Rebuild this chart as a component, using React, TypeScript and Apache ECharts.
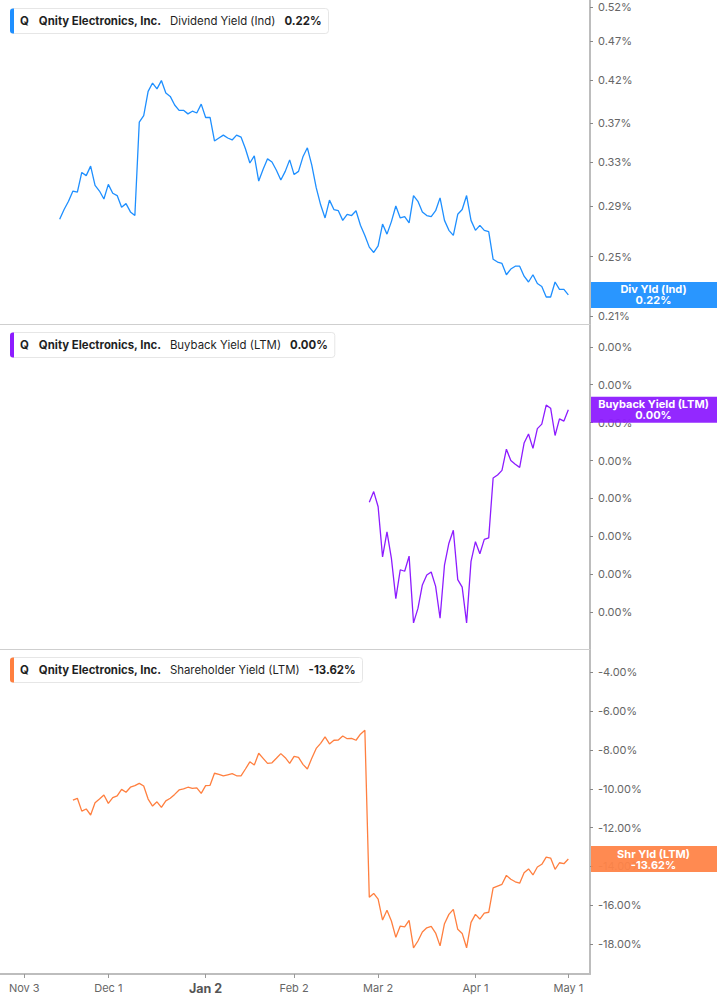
import React, { useEffect, useRef } from 'react';
import * as echarts from 'echarts';

// x axis is a trading-day index, Nov 3 = 0
const xTickIndex = [0, 19, 41, 61, 80, 102, 123];
const xTickLabels = ['Nov 3', 'Dec 1', 'Jan 2', 'Feb 2', 'Mar 2', 'Apr 1', 'May 1'];
const yearTick = 'Jan 2';

const divTicks = [0.21, 0.25, 0.29, 0.33, 0.37, 0.42, 0.47, 0.52];
const buybackTicks = [0, 0.0005, 0.001, 0.0015, 0.002, 0.0025, 0.003, 0.0035];
const shrTicks = [-18, -16, -14, -12, -10, -8, -6, -4];

const company = 'Qnity Electronics, Inc.';
const metricNames = ['Dividend Yield (Ind)', 'Buyback Yield (LTM)', 'Shareholder Yield (LTM)'];
const shortNames = ['Div Yld (Ind)', 'Buyback Yield (LTM)', 'Shr Yld (LTM)'];

const divStart = 8;
const divYield = [
  0.279, 0.287, 0.294, 0.303, 0.302, 0.320, 0.317, 0.326, 0.308, 0.303,
  0.296, 0.309, 0.301, 0.299, 0.289, 0.292, 0.285, 0.282, 0.371, 0.378,
  0.406, 0.416, 0.409, 0.419, 0.404, 0.400, 0.390, 0.384, 0.384, 0.380,
  0.383, 0.381, 0.391, 0.376, 0.376, 0.351, 0.354, 0.357, 0.354, 0.352,
  0.357, 0.355, 0.343, 0.329, 0.336, 0.312, 0.323, 0.333, 0.330, 0.322,
  0.313, 0.321, 0.332, 0.318, 0.321, 0.335, 0.344,
  0.327, 0.306, 0.291, 0.280, 0.295, 0.287, 0.286, 0.278, 0.283, 0.282,
  0.286, 0.274, 0.266, 0.257, 0.253, 0.258, 0.275, 0.267, 0.277, 0.290,
  0.280, 0.281, 0.276, 0.299, 0.294, 0.285, 0.282, 0.281, 0.286, 0.297,
  0.278, 0.270, 0.266, 0.283, 0.287, 0.299, 0.278, 0.270, 0.274, 0.270,
  0.269, 0.248, 0.246, 0.245, 0.237, 0.241, 0.243, 0.243, 0.236, 0.232,
  0.237, 0.231, 0.229, 0.222, 0.222, 0.232, 0.227, 0.227, 0.2234,
];

const buybackStart = 78;
const buybackYield = [
  0.00145, 0.00159, 0.00139, 0.00073, 0.00106, 0.00071, 0.00018, 0.00056, 0.00054, 0.00074,
  -0.00014, 0.00005, 0.00036, 0.00049, 0.00053, 0.00034, -0.00008, 0.00062, 0.00091, 0.00108,
  0.00043, 0.00033, -0.00014, 0.00067, 0.00093, 0.00077, 0.00096, 0.00098, 0.00177, 0.00181,
  0.00187, 0.00215, 0.00200, 0.00195, 0.00191, 0.00223, 0.00235, 0.00216, 0.00242, 0.00248,
  0.00273, 0.00269, 0.00233, 0.00255, 0.00252, 0.00267,
];

const shrStart = 11;
const shrYield = [
  -10.58, -10.49, -11.15, -11.04, -11.35, -10.72, -10.53, -10.32, -10.75, -10.46,
  -10.37, -10.03, -10.18, -9.92, -9.84, -9.72, -9.86, -10.53, -10.89, -10.67,
  -10.96, -10.62, -10.49, -10.29, -10.06, -10.01, -9.92, -9.98, -9.95, -10.24,
  -9.84, -9.82, -9.20, -9.26, -9.34, -9.28, -9.22, -9.33, -9.33, -8.98,
  -8.61, -8.78, -8.17, -8.43, -8.69, -8.66, -8.43, -8.19, -8.40, -8.69,
  -8.33, -8.38, -8.74, -8.98, -8.43, -7.92, -7.66, -7.33, -7.69, -7.50,
  -7.49, -7.28, -7.42, -7.40, -7.50, -7.19, -6.99, -15.59, -15.39, -15.68,
  -16.76, -16.26, -16.81, -17.65, -17.07, -17.11, -16.78, -18.19, -17.84, -17.38,
  -17.16, -17.09, -17.43, -18.09, -16.95, -16.47, -16.21, -17.24, -17.45, -18.19,
  -16.88, -16.47, -16.71, -16.40, -16.36, -15.10, -15.01, -14.92, -14.46, -14.66,
  -14.79, -14.86, -14.32, -14.13, -14.44, -14.03, -13.89, -13.52, -13.57, -14.15,
  -13.81, -13.86, -13.62,
];

// layout
const W = 717;
const H = 1005;
const PLOT_RIGHT = 590;
const PANEL_TOP = [0, 324, 649];
const PANEL_H = [324, 325, 325];
const X_MIN = -5.49;
const X_MAX = 127.9;
const COLORS = ['#1e8fff', '#8d1cff', '#ff7f3f'];
const BOX_COLORS = ['#1e90ff', '#8d1cff', '#ff8448'];
const FONT = 'Inter';
const LEGEND_FS = 11.4;

const pct = (v: number) => v.toFixed(2) + '%';

let measureCtx: CanvasRenderingContext2D | null = null;
const textWidth = (s: string, bold: boolean) => {
  if (!measureCtx) measureCtx = document.createElement('canvas').getContext('2d');
  if (!measureCtx) return s.length * 6.5;
  measureCtx.font = `${bold ? 'bold ' : ''}${LEGEND_FS}px ${FONT}`;
  return measureCtx.measureText(s).width;
};

const App: React.FC = () => {
  const chartRef = useRef<HTMLDivElement | null>(null);

  useEffect(() => {
    if (!chartRef.current) return;
    const chart = echarts.init(chartRef.current, undefined, { renderer: 'svg' });

    const panels = [
      {
        data: divYield.map((v, k) => [divStart + k, Math.log(v)]),
        min: Math.log(0.2051),
        max: Math.log(0.5308),
        ticks: divTicks.map((t) => Math.log(t)),
        fmt: (v: number) => pct(Math.exp(v)),
        last: divYield[divYield.length - 1],
        lastPoint: [divStart + divYield.length - 1, Math.log(divYield[divYield.length - 1])],
      },
      {
        data: buybackYield.map((v, k) => [buybackStart + k, v]),
        min: -0.000485,
        max: 0.0038,
        ticks: buybackTicks,
        fmt: (v: number) => pct(Math.abs(v)),
        last: buybackYield[buybackYield.length - 1],
        lastPoint: [buybackStart + buybackYield.length - 1, buybackYield[buybackYield.length - 1]],
      },
      {
        data: shrYield.map((v, k) => [shrStart + k, v]),
        min: -19.54,
        max: -2.8,
        ticks: shrTicks,
        fmt: (v: number) => pct(v),
        last: shrYield[shrYield.length - 1],
        lastPoint: [shrStart + shrYield.length - 1, shrYield[shrYield.length - 1]],
      },
    ];

    const option: any = {
      animation: false,
      textStyle: { fontFamily: FONT },
      grid: panels.map((_, i) => ({
        left: 0,
        right: W - PLOT_RIGHT,
        top: PANEL_TOP[i],
        height: PANEL_H[i],
        containLabel: false,
      })),
      xAxis: panels.map((_, i) => ({
        type: 'value',
        gridIndex: i,
        min: X_MIN,
        max: X_MAX,
        splitLine: { show: false },
        axisLine: {
          show: true,
          onZero: false,
          lineStyle: { color: i < 2 ? '#cfcfcf' : '#bdbdbd', width: i < 2 ? 1 : 2 },
        },
        axisTick: {
          show: i === 2,
          customValues: xTickIndex,
          length: 4,
          lineStyle: { color: '#999' },
        },
        axisLabel: {
          show: i === 2,
          customValues: xTickIndex,
          margin: 8,
          color: '#666',
          fontSize: 11,
          fontFamily: FONT,
          formatter: (v: number) => {
            const s = xTickLabels[xTickIndex.indexOf(Math.round(v))] || '';
            return s === yearTick ? `{b|${s}}` : s;
          },
          rich: { b: { fontWeight: 'bold', fontSize: 12.5, color: '#555', fontFamily: FONT } },
        },
      })),
      yAxis: panels.map((p, i) => ({
        type: 'value',
        gridIndex: i,
        position: 'right',
        min: p.min,
        max: p.max,
        splitLine: { show: false },
        axisLine: { show: true, onZero: false, lineStyle: { color: '#bdbdbd', width: 2 } },
        axisTick: { show: true, customValues: p.ticks, length: 3, lineStyle: { color: '#888' } },
        axisLabel: {
          customValues: p.ticks,
          margin: 8,
          color: '#666',
          fontSize: 11,
          fontFamily: FONT,
          formatter: p.fmt,
        },
      })),
      series: panels.map((p, i) => ({
        type: 'line',
        name: metricNames[i],
        xAxisIndex: i,
        yAxisIndex: i,
        data: p.data,
        showSymbol: false,
        symbol: 'none',
        lineStyle: { color: COLORS[i], width: 1.3 },
        z: 3,
      })),
    };

    chart.setOption(option);

    const graphic: any[] = [];
    panels.forEach((p, i) => {
      const lt = PANEL_TOP[i] + 8.5;
      const cy = lt + 12.5;
      const valText = pct(i === 1 ? Math.abs(p.last) : p.last);

      // legend chip: texts laid out one after another with fixed gaps
      const parts = [
        { text: 'Q', bold: true, gap: 10 },
        { text: company, bold: true, gap: 8.5 },
        { text: metricNames[i], bold: false, gap: 9 },
        { text: valText, bold: true, gap: 7 },
      ];
      let cx = 20;
      const texts: any[] = [];
      parts.forEach((pt) => {
        texts.push({
          type: 'text',
          z: 52,
          x: cx,
          y: cy,
          style: {
            text: pt.text,
            fill: '#1f1f1f',
            fontSize: LEGEND_FS,
            fontWeight: pt.bold ? 'bold' : 'normal',
            fontFamily: FONT,
            verticalAlign: 'middle',
          },
        });
        cx += textWidth(pt.text, pt.bold) + pt.gap;
      });

      graphic.push(
        {
          type: 'rect',
          z: 50,
          shape: { x: 10.5, y: lt, width: cx - 10.5, height: 25, r: 3 },
          style: { fill: '#fff', stroke: '#e6e6e6', lineWidth: 1 },
        },
        {
          type: 'rect',
          z: 51,
          shape: { x: 10, y: lt, width: 4, height: 25, r: [3, 0, 0, 3] },
          style: { fill: COLORS[i] },
        },
        ...texts
      );

      const py = (chart.convertToPixel({ gridIndex: i } as any, p.lastPoint) as number[])[1];
      graphic.push(
        {
          type: 'rect',
          z: 60,
          shape: { x: PLOT_RIGHT + 1, y: py - 13, width: W - PLOT_RIGHT - 1, height: 26 },
          style: { fill: BOX_COLORS[i], opacity: 0.95 },
        },
        {
          type: 'text',
          z: 61,
          x: (PLOT_RIGHT + W) / 2,
          y: py,
          style: {
            text: `${shortNames[i]}\n${valText}`,
            fill: '#fff',
            fontSize: 11,
            fontWeight: 'bold',
            fontFamily: FONT,
            align: 'center',
            verticalAlign: 'middle',
            lineHeight: 11,
          },
        }
      );
    });

    chart.setOption({ graphic });

    return () => {
      chart.dispose();
    };
  }, []);

  return (
    <div
      ref={chartRef}
      style={{ position: 'absolute', left: 0, top: 0, width: W + 'px', height: H + 'px', background: '#fff' }}
    />
  );
};

export default App;
